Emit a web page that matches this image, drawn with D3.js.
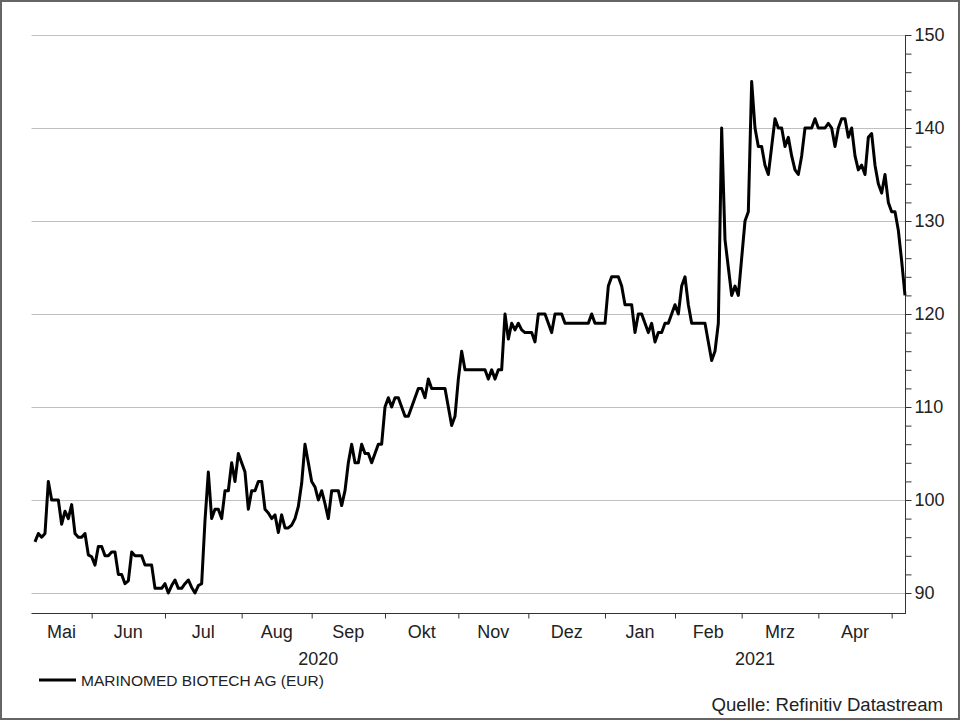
<!DOCTYPE html>
<html>
<head>
<meta charset="utf-8">
<script src="https://cdn.jsdelivr.net/npm/d3@7"></script>
<style>
  html, body { margin: 0; padding: 0; background: #fff; }
  svg { display: block; }
  text { font-family: "Liberation Sans", Arial, sans-serif; fill: #222; }
</style>
</head>
<body>
<svg id="chart" width="960" height="720"></svg>
<script>
// ---------- DATA ----------
const seriesName = "MARINOMED BIOTECH AG (EUR)";
const sourceLabel = "Quelle: Refinitiv Datastream";
const firstDay = "2020-05-07";
const lastDay = "2021-05-07";
// daily (weekday) closing prices, EUR
const prices = [
  95.5, 96.4, 96.0, 96.4, 102, 100, 100, 100, 97.4, 98.8,
  98, 99.5, 96.4, 96, 96, 96.4, 94.1, 93.9, 93, 95,
  95, 94, 94, 94.4, 94.4, 92, 92, 91, 91.3, 94.4,
  94, 94, 94, 93, 93, 93, 90.5, 90.5, 90.5, 91,
  90, 90.8, 91.4, 90.5, 90.5, 91, 91.4, 90.6, 90, 90.8,
  91, 97.8, 103, 98, 99, 99, 98, 101, 101, 104,
  102, 105, 104, 103, 99, 101, 101, 102, 102, 99,
  98.6, 98, 98.4, 96.5, 98.4, 97, 97, 97.3, 98, 99.3,
  101.8, 106, 104, 102, 101.4, 100, 101, 99.6, 98, 101,
  101, 101, 99.4, 101, 104, 106, 104, 104, 106, 105,
  105, 104, 105, 106, 106, 110, 111, 110, 111, 111,
  110, 109, 109, 110, 111, 112, 112, 111, 113, 112,
  112, 112, 112, 112, 110, 108, 109, 113, 116, 114,
  114, 114, 114, 114, 114, 114, 113, 114, 113, 114,
  114, 120, 117.3, 119, 118.3, 119, 118.3, 118, 118, 118,
  117, 120, 120, 120, 119, 118, 120, 120, 120, 119,
  119, 119, 119, 119, 119, 119, 119, 120, 119, 119,
  119, 119, 123, 124, 124, 124, 123, 121, 121, 121,
  118, 120, 120, 119, 118, 119, 117, 118, 118, 119,
  119, 120, 121, 120, 123, 124, 121, 119, 119, 119,
  119, 119, 117, 115, 116, 119, 140, 128, 125, 122,
  123, 122, 126, 130, 131, 145, 140, 138, 138, 136,
  135, 138, 141, 140, 140, 138, 139, 137, 135.5, 135,
  137, 140, 140, 140, 141, 140, 140, 140, 140.5, 140,
  138, 140, 141, 141, 139, 140, 137, 135.5, 136, 135,
  139, 139.4, 136, 134, 133, 135, 132, 131, 131, 129,
  125.7, 122
];
const monthLabels = ["Mai", "Jun", "Jul", "Aug", "Sep", "Okt", "Nov", "Dez", "Jan", "Feb", "Mrz", "Apr"];
const yearLabels = ["2020", "2021"];
const yTicksMajor = [90, 100, 110, 120, 130, 140, 150];

// ---------- LAYOUT ----------
const W = 960, H = 720;
const plotLeft = 35, plotRight = 905, axisStartX = 31.5;
const plotTop = 35, plotBottom = 593, xAxisY = 613;

const svg = d3.select("#chart");
svg.append("rect").attr("x", 0).attr("y", 0).attr("width", W).attr("height", H).attr("fill", "#fff");
svg.append("rect").attr("x", 1).attr("y", 1).attr("width", W - 2).attr("height", H - 2)
  .attr("fill", "none").attr("stroke", "#666").attr("stroke-width", 2);

// trading-day (weekday) calendar
const parse = d3.timeParse("%Y-%m-%d");
const days = d3.timeDay.range(parse(firstDay), d3.timeDay.offset(parse(lastDay), 1))
  .filter(d => d.getDay() !== 0 && d.getDay() !== 6);
const data = days.map((d, i) => ({ date: d, v: prices[i] })).filter(d => d.v != null);

const x = d3.scalePoint().domain(days.map(d => +d)).range([plotLeft, plotRight]);
const y = d3.scaleLinear().domain([90, 150]).range([plotBottom, plotTop]);

// gridlines
svg.append("g").selectAll("line").data(yTicksMajor).join("line")
  .attr("x1", axisStartX).attr("x2", plotRight)
  .attr("y1", d => Math.round(y(d)) + 0.5).attr("y2", d => Math.round(y(d)) + 0.5)
  .attr("stroke", "#c0c0c0").attr("stroke-width", 1);

// right axis
const yAxis = d3.axisRight(y)
  .tickValues(d3.range(90, 151, 2))
  .tickSize(6)
  .tickPadding(3)
  .tickFormat(d => d % 10 === 0 ? d : "");
const gy = svg.append("g").attr("transform", `translate(${plotRight + 0.5},0)`).call(yAxis);
gy.select(".domain").remove();
gy.selectAll(".tick line").attr("stroke", "#333");
gy.selectAll(".tick text").attr("font-size", 18).attr("fill", "#222")
  .attr("font-family", '"Liberation Sans", Arial, sans-serif');
svg.append("line").attr("x1", plotRight + 0.5).attr("x2", plotRight + 0.5)
  .attr("y1", plotTop).attr("y2", xAxisY).attr("stroke", "#333");

// bottom axis: month boundaries (first trading day of each month)
const monthStarts = [];
days.forEach((d, i) => {
  if (i > 0 && d.getMonth() !== days[i - 1].getMonth()) monthStarts.push(d);
});
const xAxis = d3.axisBottom(x).tickValues(monthStarts.map(d => +d)).tickSize(5).tickFormat("");
const gx = svg.append("g").attr("transform", `translate(0,${xAxisY + 0.5})`).call(xAxis);
gx.select(".domain").remove();
gx.selectAll(".tick line").attr("stroke", "#333");
svg.append("line").attr("x1", axisStartX).attr("x2", plotRight + 1)
  .attr("y1", xAxisY + 0.5).attr("y2", xAxisY + 0.5).attr("stroke", "#333");

const bounds = [axisStartX].concat(monthStarts.map(d => x(+d)));
svg.append("g").selectAll("text").data(monthLabels).join("text")
  .attr("x", (d, i) => (bounds[i] + bounds[i + 1]) / 2)
  .attr("y", 638)
  .attr("text-anchor", "middle").attr("font-size", 18)
  .text(d => d);

const jan = monthStarts.find(d => d.getMonth() === 0);
const yearBounds = [axisStartX, x(+jan), plotRight];
svg.append("g").selectAll("text").data(yearLabels).join("text")
  .attr("x", (d, i) => (yearBounds[i] + yearBounds[i + 1]) / 2)
  .attr("y", 665)
  .attr("text-anchor", "middle").attr("font-size", 18)
  .text(d => d);

// price line
const line = d3.line().x(d => x(+d.date)).y(d => y(d.v));
svg.append("path").datum(data)
  .attr("d", line)
  .attr("fill", "none").attr("stroke", "#000").attr("stroke-width", 3)
  .attr("stroke-linejoin", "round");

// legend
svg.append("line").attr("x1", 39).attr("x2", 76).attr("y1", 680).attr("y2", 680)
  .attr("stroke", "#000").attr("stroke-width", 3);
svg.append("text").attr("x", 81).attr("y", 685.5).attr("font-size", 15.5).text(seriesName);

// source
svg.append("text").attr("x", 943).attr("y", 711).attr("text-anchor", "end")
  .attr("font-size", 18.6).text(sourceLabel);
</script>
</body>
</html>
